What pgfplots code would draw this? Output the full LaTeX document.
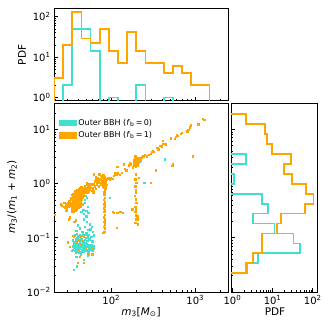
\documentclass[border=0pt]{standalone}
\usepackage{fontspec}
\setmainfont{DejaVu Sans}
\usepackage{pgfplots}
\pgfplotsset{compat=1.18}
\definecolor{tcyan}{RGB}{64,224,208}
\definecolor{torange}{RGB}{255,165,0}
\pgfplotsset{
  myax/.style={
    scale only axis,
    axis line style={line width=0.9pt, color=black},
    tick style={color=black, line width=0.6pt},
    tick align=inside,
    major tick length=4pt,
    minor tick length=2.2pt,
    xtick pos=left, ytick pos=left,
    tick label style={font=\fontsize{10}{12}\selectfont},
    clip=true,
  },
  hcyan/.style={draw=tcyan, color=tcyan, mark=none, line width=1.7pt, line join=miter},
  horange/.style={draw=torange, color=torange, mark=none, line width=1.7pt, line join=miter},
}
\begin{document}
\begin{tikzpicture}
\path[use as bounding box] (0pt,0pt) rectangle (332pt,332pt);

% ---------------- main scatter axis
\begin{axis}[myax,
  at={(54pt,40pt)}, anchor=south west, width=174pt, height=188.5pt,
  xmode=log, ymode=log,
  xmin=20.8, xmax=2450, ymin=0.01, ymax=30,
  xtick={100,1000}, xticklabels={10\textsuperscript{2},10\textsuperscript{3}},
  minor xtick={30,40,50,60,70,80,90,200,300,400,500,600,700,800,900,2000},
  ytick={0.01,0.1,1,10}, yticklabels={10\textsuperscript{−2},10\textsuperscript{−1},10\textsuperscript{0},10\textsuperscript{1}},
  minor ytick={0.02,0.03,0.04,0.05,0.06,0.07,0.08,0.09,0.2,0.3,0.4,0.5,0.6,0.7,0.8,0.9,2,3,4,5,6,7,8,9,20},
  legend style={at={(0.01,0.94)}, anchor=north west, draw=none, fill=none,
    font=\fontsize{8}{9.6}\selectfont, row sep=0.5pt},
  legend cell align=left,
]
\addlegendimage{area legend, fill=tcyan, draw=tcyan}
\addlegendentry{Outer BBH (\textit{f}\textsubscript{b}\,=\,0)}
\addlegendimage{area legend, fill=torange, draw=torange}
\addlegendentry{Outer BBH (\textit{f}\textsubscript{b}\,=\,1)}

% cyan (f_b = 0)
\addplot[forget plot, only marks, color=tcyan, mark=square*, mark size=0.7pt, mark options={draw=tcyan, fill=tcyan, line width=0.3pt}] coordinates {
(33.5,0.34) (33.8,0.058) (39,0.03) (35.5,0.026)
(38,0.045) (43,0.05) (47,0.04) (52,0.048)
(36,0.33) (41,0.37) (46,0.33) (48,0.45) (51,0.55) (49,0.6) (47,0.28) (50,0.25)
(47,0.22) (51,0.2) (45,0.42) (52,0.38) (44,0.3) (50,0.32) (53,0.29) (48,0.5)
(40,0.17) (42,0.15) (45,0.13) (52,0.14) (55,0.18) (58,0.16) (60,0.13) (48,0.16) (50,0.125) (38,0.135) (56,0.145)
(34.8,0.09) (35.5,0.105) (36.2,0.085) (36.9,0.112) (37.5,0.095) (38.1,0.08) (38.7,0.118) (39.3,0.1) (39.9,0.088) (40.5,0.108) (41.1,0.093) (41.7,0.115) (42.3,0.083) (42.9,0.102) (43.5,0.11) (43.9,0.09)
(44.6,0.097) (45.4,0.117) (46.2,0.086) (47.0,0.105) (47.8,0.092) (48.6,0.113) (49.4,0.082) (50.2,0.1) (51.0,0.119) (51.8,0.089) (52.6,0.107) (53.4,0.096) (54.2,0.114) (55.5,0.094)
(57.3,0.104) (59.0,0.087) (61.5,0.112)
(34.5,0.06) (35,0.07) (35.6,0.065) (36.1,0.075) (36.6,0.058) (37.1,0.068) (37.6,0.054) (38.1,0.072) (38.6,0.062) (39.1,0.077) (39.6,0.057) (40.1,0.066) (40.6,0.071) (41.1,0.06) (41.6,0.074) (42.1,0.064) (42.6,0.056) (43.1,0.069) (43.6,0.077) (37.9,0.064) (40.9,0.053) (35.9,0.078) (42.3,0.072)
(44.4,0.061) (45,0.073) (45.6,0.066) (46.2,0.055) (46.8,0.07) (47.4,0.076) (48,0.063) (48.6,0.058) (49.2,0.071) (49.8,0.065) (50.4,0.078) (51,0.06) (51.6,0.068) (52.2,0.074) (52.8,0.057) (53.4,0.066) (54,0.072) (54.6,0.061) (55.2,0.075) (55.8,0.064) (47.1,0.06)
(57,0.067) (58.2,0.074) (59.4,0.059) (60.6,0.07) (62,0.064)
(95,0.55) (245,1.05) (215,2.6) (435,2.8)
};

% orange (f_b = 1)
\addplot[forget plot, only marks, color=torange, mark=square*, mark size=0.7pt, mark options={draw=torange, fill=torange, line width=0.3pt}] coordinates {
(21,0.27) (24.8,0.42) (25.5,0.4)
(27,0.38) (28,0.36) (28.5,0.42) (29,0.4) (29.5,0.35) (30,0.45) (30.5,0.38) (31,0.42) (31.5,0.48) (32,0.4) (32.5,0.44) (33,0.5) (33.5,0.38) (27.5,0.45) (30,0.083) (32,0.068) (32,0.24) (31,0.22) (33,0.55) (29,0.32)
(40,0.035) (42,0.045) (41,0.06) (43,0.076) (39.5,0.09) (42,0.11) (38,0.083) (35,0.11) (36,0.2) (37.5,0.21)
(34.0,0.31) (34.4,0.37) (34.1,0.42) (34.5,0.46) (34.2,0.5) (34.6,0.55) (34.3,0.63)
(34.8,0.33) (35.1,0.39) (34.9,0.43) (35.2,0.47) (34.8,0.52) (35.0,0.58) (35.3,0.66)
(35.4,0.30) (35.7,0.36) (35.5,0.41) (35.8,0.45) (35.4,0.49) (35.9,0.54) (35.6,0.61)
(36.0,0.34) (36.3,0.40) (36.1,0.44) (36.4,0.48) (36.0,0.53) (36.2,0.59) (36.5,0.68)
(36.6,0.35) (36.9,0.41) (36.7,0.45) (37.0,0.50) (36.6,0.55) (36.8,0.62) (37.1,0.72)
(37.2,0.32) (37.5,0.38) (37.3,0.43) (37.6,0.47) (37.2,0.51) (37.4,0.57) (37.7,0.65)
(37.8,0.36) (38.1,0.42) (37.9,0.46) (38.2,0.51) (37.8,0.56) (38.0,0.63) (38.3,0.74)
(38.4,0.37) (38.7,0.43) (38.5,0.48) (38.8,0.52) (38.4,0.58) (38.6,0.65) (38.9,0.76)
(39.0,0.34) (39.3,0.40) (39.1,0.45) (39.4,0.50) (39.0,0.55) (39.2,0.61) (39.5,0.70)
(39.6,0.38) (39.9,0.44) (39.7,0.49) (40.0,0.54) (39.6,0.60) (39.8,0.67) (40.1,0.78)
(40.2,0.39) (40.5,0.45) (40.3,0.50) (40.6,0.55) (40.2,0.61) (40.4,0.69) (40.7,0.80)
(40.8,0.36) (41.1,0.42) (40.9,0.47) (41.2,0.53) (40.8,0.58) (41.0,0.64) (41.3,0.73)
(41.4,0.40) (41.7,0.46) (41.5,0.52) (41.8,0.57) (41.4,0.63) (41.6,0.70) (41.9,0.82)
(42.0,0.41) (42.3,0.47) (42.1,0.53) (42.4,0.58) (42.0,0.64) (42.2,0.72) (42.5,0.84)
(42.6,0.38) (42.9,0.44) (42.7,0.50) (43.0,0.56) (42.6,0.62) (42.8,0.68) (43.1,0.77)
(43.2,0.42) (43.5,0.48) (43.3,0.54) (43.6,0.60) (43.2,0.66) (43.4,0.73) (43.7,0.86)
(43.8,0.43) (44.0,0.50) (43.9,0.56) (44.0,0.61) (43.8,0.67) (43.9,0.75) (44.0,0.88)
(44.5,0.62) (45,0.7) (45.5,0.78) (46,0.66) (46.5,0.85) (47,0.72) (47.5,0.6) (48,0.8) (48.5,0.92) (49,0.7) (49.5,0.84) (50,0.76) (50.5,0.95) (51,1.05) (51.5,0.68) (52,0.88) (52.5,0.79) (53,0.88) (53.5,0.97) (54,0.72) (54.5,0.82) (55,0.9) (55.5,0.78) (56,1.0) (45,0.55) (49.5,0.064) (44.5,0.09) (47,0.035) (46,0.11) (53,0.05)
(57,0.85) (58,0.75) (59,0.95) (60,0.82) (61,1.0) (62,1.5) (62,0.75) (63,0.9) (64,1.1) (65,0.8) (66,1.2) (67,0.95) (68,1.05) (69,1.3) (70,1.1) (71,0.9) (72,1.48) (72,1.2) (59.5,0.05) (58,0.065) (61,0.7) (65,1.35)
(80,1.45) (82,1.35) (84,1.3) (81,1.25) (83,1.2) (85,1.15) (80,1.1) (82,1.05) (84,1.0) (86,0.98) (81,0.95) (83,0.92) (85,0.9) (80,0.88) (82,0.85) (84,0.82) (86,0.8) (83,0.75) (81,0.7) (84,0.68) (82,0.62) (83,0.55) (81,0.5) (84,0.46) (82,0.42) (83,0.38) (81,0.35) (84,0.33) (82,0.3) (83,0.27) (81,0.24) (84,0.22) (82,0.2) (83,0.18) (81,0.16) (84,0.15) (82,0.13) (80,0.125)
(74,1.05) (75,1.2) (76,0.95) (77,1.1) (78,1.3) (79,1.0) (88,1.2) (90,1.3) (92,1.25) (76,1.4) (86,1.1) (88,0.95)
(95,1.2) (98,1.3) (102,1.24) (106,1.4) (110,1.55) (113,1.45) (115,1.5) (118,1.6) (120,1.55) (117,2.06) (106,0.29) (115,0.155) (117,0.29) (103,0.3)
(125,1.45) (128,0.3) (132,1.6) (136,0.29) (140,2.3) (145,1.9) (150,1.78)
(185,2.2) (187,2.5) (189,2.8) (190,3.1) (191,2.35) (192,2.65) (193,2.9) (194,3.25) (195,2.15) (196,2.45) (197,2.75) (198,3.0) (186,2.7) (188,2.3) (199,2.6) (192,3.3) (196,2.2) (190,2.55) (194,2.05) (198,2.4)
(195,1.48) (192,1.2) (197,1.05) (193,0.9) (196,0.78) (194,0.7) (191,0.6) (195,0.52) (197,0.45) (193,0.38) (196,0.34) (192,0.3) (194,0.26) (197,0.22) (193,0.19)
(165,2.46) (177,0.34) (160,2.2) (170,2.3) (180,2.0)
(205,2.8) (210,2.5) (212,1.29) (206,0.18) (230,3.05) (240,3.2) (225,3.0) (202,0.25) (205,0.22) (203,2.2) (208,3.0) (215,2.9) (220,2.7) (250,3.4)
(264,3.2) (295,3.6) (301,3.88) (295,1.04) (280,3.4) (320,3.9) (310,4.1)
(339,1.78) (361,4.33) (397,4.93) (408,6.2) (350,4.6) (380,5.0) (415,5.5)
(447,5.35) (505,6.9) (538,2.27) (528,2.15)
(565,6.7) (580,7.3) (620,7.75) (665,8.4) (600,7.9) (690,8.8)
(800,9.3) (820,10) (875,12) (850,11)
(937,3.2) (1080,12.5)
(1215,15.9) (1270,15)
};
\end{axis}

% ---------------- top histogram
\begin{axis}[myax,
  at={(54pt,231.3pt)}, anchor=south west, width=174pt, height=92.4pt,
  xmode=log, ymode=log,
  xmin=20.8, xmax=2450, ymin=0.834, ymax=161,
  xtick={100,1000}, xticklabels={},
  minor xtick={30,40,50,60,70,80,90,200,300,400,500,600,700,800,900,2000},
  ytick={1,10,100}, yticklabels={10\textsuperscript{0},10\textsuperscript{1},10\textsuperscript{2}},
  minor ytick={0.9,2,3,4,5,6,7,8,9,20,30,40,50,60,70,80,90},
]
\addplot[hcyan] coordinates {
(26.72,0.5) (26.72,2) (34.32,2) (34.32,49) (56.65,49) (56.65,14) (72.78,14) (72.78,0.5)
};
\addplot[hcyan] coordinates {(93.50,0.5) (93.50,1) (120.1,1) (120.1,0.5)};
\addplot[hcyan] coordinates {(198.3,0.5) (198.3,2) (254.7,2) (254.7,0.5)};
\addplot[hcyan] coordinates {(420.4,0.5) (420.4,1) (540,1) (540,0.5)};
\addplot[horange] coordinates {
(20.80,0.5) (20.80,3) (26.72,3) (26.72,20) (34.32,20) (34.32,128) (44.10,128) (44.10,29)
(56.65,29) (56.65,22) (72.78,22) (72.78,49) (93.50,49) (93.50,14) (120.1,14) (120.1,7)
(154.3,7) (154.3,41) (198.3,41) (198.3,14) (254.7,14) (254.7,7) (420.4,7) (420.4,4)
(540.0,4) (540.0,6) (693.8,6) (693.8,4) (891.3,4) (891.3,2) (1471,2) (1471,0.5)
};
\end{axis}

% ---------------- right histogram
\begin{axis}[myax,
  at={(231pt,40pt)}, anchor=south west, width=86.3pt, height=188.5pt,
  xmode=log, ymode=log,
  xmin=0.92, xmax=130, ymin=0.01, ymax=30,
  xtick={1,10,100}, xticklabels={10\textsuperscript{0},10\textsuperscript{1},10\textsuperscript{2}},
  minor xtick={2,3,4,5,6,7,8,9,20,30,40,50,60,70,80,90},
  ytick={0.01,0.1,1,10}, yticklabels={},
  minor ytick={0.02,0.03,0.04,0.05,0.06,0.07,0.08,0.09,0.2,0.3,0.4,0.5,0.6,0.7,0.8,0.9,2,3,4,5,6,7,8,9,20},
]
\addplot[hcyan] coordinates {(0.5,3.510) (2.18,3.510) (2.18,2.301) (0.5,2.301)};
\addplot[hcyan] coordinates {(0.5,1.510) (1.1,1.510) (1.1,0.9899) (0.5,0.9899)};
\addplot[hcyan] coordinates {
(0.5,0.6493) (5.4,0.6493) (5.4,0.4258) (7.8,0.4258) (7.8,0.2793) (3.3,0.2793) (3.3,0.1832)
(11.2,0.1832) (11.2,0.1201) (33,0.1201) (33,0.0788) (49,0.0788) (49,0.05166) (4.4,0.05166)
(4.4,0.03388) (2.3,0.03388) (2.3,0.02222) (0.5,0.02222)
};
\addplot[horange] coordinates {
(0.5,18.97) (2.18,18.97) (2.18,12.44) (6.5,12.44) (6.5,8.157) (7.2,8.157) (7.2,5.350) (9.5,5.350)
(9.5,3.510) (28.4,3.510) (28.4,2.301) (19.4,2.301) (19.4,1.510) (30,1.510) (30,0.9899) (68.8,0.9899)
(68.8,0.6493) (105,0.6493) (105,0.4258) (65,0.4258) (65,0.2793) (16.3,0.2793) (16.3,0.1832)
(12.7,0.1832) (12.7,0.1201) (5.4,0.1201) (5.4,0.05166) (3.3,0.05166) (3.3,0.03388) (2.18,0.03388)
(2.18,0.02222) (0.5,0.02222)
};
\end{axis}

% axis labels
\node[rotate=90, font=\fontsize{10.5}{12}\selectfont] at (22pt,277pt) {PDF};
\node[rotate=90, font=\fontsize{10.5}{12}\selectfont] at (12pt,135pt) {\textit{m}\textsubscript{3}/(\textit{m}\textsubscript{1} + \textit{m}\textsubscript{2})};
\node[font=\fontsize{10.5}{12}\selectfont] at (141pt,20pt) {\textit{m}\textsubscript{3}[\textit{M}\textsubscript{⊙}]};
\node[font=\fontsize{10.5}{12}\selectfont] at (275pt,20pt) {PDF};
\end{tikzpicture}
\end{document}
